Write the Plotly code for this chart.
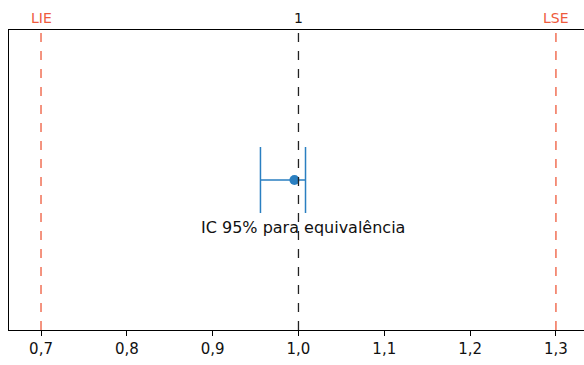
import plotly.graph_objects as go

# Data
estimate = [0.9953]
ci_lower = [0.9557]
ci_upper = [1.0082]
limits = [0.70, 1.30]
limit_labels = ["LIE", "LSE"]
reference = 1.0
tick_vals = [0.7, 0.8, 0.9, 1.0, 1.1, 1.2, 1.3]
tick_text = ["0,7", "0,8", "0,9", "1,0", "1,1", "1,2", "1,3"]
ci_label = "IC 95% para equivalência"

font = "DejaVu Sans"
blue = "#2a7fc1"
red = "#ee5a3c"

fig = go.Figure()
fig.add_trace(go.Scatter(
    x=estimate, y=[0],
    mode="markers",
    marker=dict(color=blue, size=10),
    error_x=dict(type="data", symmetric=False,
                 array=[u - e for u, e in zip(ci_upper, estimate)],
                 arrayminus=[e - l for l, e in zip(ci_lower, estimate)],
                 color=blue, thickness=1.5, width=33),
    showlegend=False,
))

for lim, lab in zip(limits, limit_labels):
    fig.add_shape(type="line", x0=lim, x1=lim, y0=0, y1=1, xref="x", yref="paper",
                  line=dict(color=red, width=1.3, dash="dash"))
    fig.add_annotation(x=lim, y=1, xref="x", yref="paper", text=lab, showarrow=False,
                       yanchor="bottom", yshift=2, font=dict(family=font, size=14, color=red))
fig.add_shape(type="line", x0=reference, x1=reference, y0=0, y1=1, xref="x", yref="paper",
              line=dict(color="#222222", width=1.3, dash="dash"))
fig.add_annotation(x=reference, y=1, xref="x", yref="paper", text="1", showarrow=False,
                   yanchor="bottom", yshift=2, font=dict(family=font, size=14, color="#111111"))

fig.add_annotation(x=1.005, y=-0.69, xref="x", yref="y", text=ci_label, showarrow=False,
                   font=dict(family=font, size=16, color="#111111"))

fig.update_layout(
    width=584, height=365,
    margin=dict(l=9, r=0, t=30, b=35),
    plot_bgcolor="white", paper_bgcolor="white",
    font=dict(family=font, size=12, color="#111111"),
    xaxis=dict(range=[0.6627, 1.3327], tickvals=tick_vals, ticktext=tick_text,
               showgrid=False, zeroline=False, showline=True, linecolor="black",
               linewidth=1.2, mirror=True, ticks="outside", ticklen=5, tickcolor="black",
               tickfont=dict(family=font, size=15)),
    yaxis=dict(range=[-2.2, 2.2], showticklabels=False, showgrid=False, zeroline=False,
               showline=True, linecolor="black", linewidth=1.2, mirror=True, ticks=""),
)

fig.write_html("out.html")
